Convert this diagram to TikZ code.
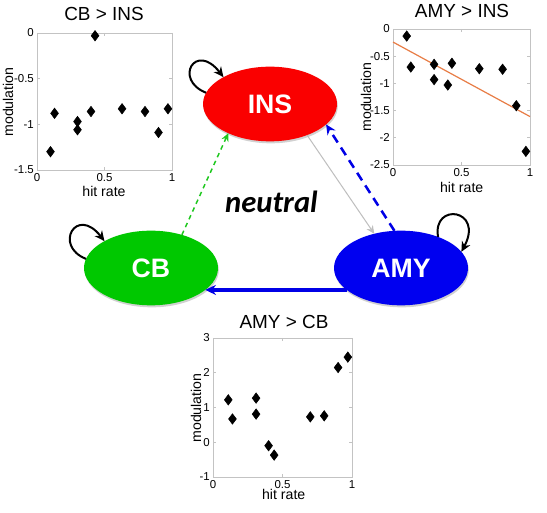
\documentclass[tikz,border=0pt]{standalone}
\usepackage{fontspec}
\setmainfont{Liberation Sans}
\newfontfamily\calibrifont{Carlito}
\usetikzlibrary{shapes.geometric,arrows.meta,shadows}

\definecolor{insred}{RGB}{250,0,0}
\definecolor{cbgreen}{RGB}{0,200,0}
\definecolor{amyblue}{RGB}{0,0,240}
\definecolor{linkblue}{RGB}{0,0,230}
\definecolor{linkgreen}{RGB}{30,200,30}
\definecolor{linkgray}{RGB}{190,190,190}
\definecolor{fitorange}{RGB}{232,125,70}
\definecolor{boxgray}{RGB}{195,195,195}

\tikzset{every picture/.style={line width=0.75pt}}
\tikzset{
	region/.style={ellipse, draw=none, minimum width=100.5pt, minimum height=56pt, inner sep=0pt, outer sep=0pt, text=white, font=\fontsize{20}{20}\selectfont\bfseries,
		drop shadow={shadow xshift=0.6pt, shadow yshift=-1.5pt, fill=black, opacity=0.18}},
	selfloop/.style={line width=1.5pt, -{Stealth[length=7.5pt,width=7pt]}},
	plotbox/.style={draw=boxgray, line width=0.6pt},
	ticklabel/.style={font=\fontsize{8.6}{8.6}\selectfont, inner sep=2pt},
	axislabel/.style={font=\fontsize{10.6}{10.6}\selectfont, inner sep=0pt},
	plottitle/.style={font=\fontsize{14.2}{14.2}\selectfont, inner sep=0pt, anchor=base},
	datapoint/.style={diamond, fill=black, draw=black, line width=0.4pt, inner sep=0pt, minimum width=6pt, minimum height=8pt},
}

\begin{document}
\begin{tikzpicture}[x=0.75pt,y=0.75pt,yscale=-1,xscale=1]
	\useasboundingbox (0,0) rectangle (547,513);
	\fill[white] (0,0) rectangle (547,513);

	%Shape: Ellipse
	\node[region, fill=insred] (INS) at (270,104) {INS};
	%Shape: Ellipse
	\node[region, fill=cbgreen] (CB) at (151,268) {CB};
	%Shape: Ellipse
	\node[region, fill=amyblue] (AMY) at (401,268) {AMY};

	% Text Node
	\node[anchor=base, inner sep=0pt, font=\calibrifont\fontsize{23}{23}\selectfont\bfseries\itshape] (neutral) at (271.5,213) {neutral};

	%Straight Lines
	\draw[linkgreen, line width=1.1pt, dash pattern=on 3.4pt off 3pt, -{Stealth[length=6pt,width=5.5pt]}] (CB.47) -- (INS.215);
	%Straight Lines
	\draw[linkblue, line width=1.9pt, dash pattern=on 6.75pt off 4.5pt, -{Stealth[length=7.5pt,width=7pt]}] (AMY.100) -- (INS.340);
	%Straight Lines
	\draw[linkgray, line width=0.75pt, -{Stealth[length=6pt,width=5.5pt]}] (INS.-40) -- (AMY.128);
	%Straight Lines
	\draw[linkblue, line width=2.5pt, -{Stealth[length=8pt,width=7.5pt]}] (AMY.202) -- (CB.338);

	%Curve Lines
	\draw[selfloop] (INS.170) .. controls +(-33,-13) and +(-28,-36) .. (INS.150);
	%Curve Lines
	\draw[selfloop] (CB.172) .. controls +(-33,-13) and +(-28,-36) .. (CB.150);
	%Curve Lines
	\draw[selfloop] (AMY.40) .. controls +(-6,-35) and +(23,-43) .. (AMY.15);

	% Plot CB > INS
	\node[plottitle] (cbinsTitle) at (104,20.7) {CB > INS};
	\node[axislabel, anchor=base] (cbinsX) at (104,197) {hit rate};
	\node[axislabel, rotate=90] (cbinsY) at (8,102) {modulation};
	\begin{scope}[shift={(37,33)}, xscale=135, yscale=-91.3]
		\draw[plotbox] (0,-1.5) rectangle (1,0);
		\foreach \tx [count=\i] in {0,0.5,1} {
			\draw[plotbox] (\tx,-1.5) -- (\tx,-1.47) (\tx,0) -- (\tx,-0.03);
			\node[ticklabel, anchor=north] (cbinsXt\i) at (\tx,-1.5) {\tx};
		}
		\foreach \ty/\tl [count=\i] in {-1.5/-1.5,-1/-1,-0.5/-0.5,0/0} {
			\draw[plotbox] (0,\ty) -- (0.02,\ty) (1,\ty) -- (0.98,\ty);
			\node[ticklabel, anchor=east] (cbinsYt\i) at (0,\ty) {\tl};
		}
		\foreach \px/\py [count=\i] in {0.10/-1.30, 0.13/-0.88, 0.30/-0.97, 0.30/-1.06, 0.40/-0.86, 0.43/-0.03, 0.63/-0.83, 0.80/-0.86, 0.90/-1.09, 0.97/-0.83}
			\node[datapoint] (cbinsP\i) at (\px,\py) {};
	\end{scope}

	% Plot AMY > INS
	\node[plottitle] (amyinsTitle) at (462,17.3) {AMY > INS};
	\node[axislabel, anchor=base] (amyinsX) at (461.7,193) {hit rate};
	\node[axislabel, rotate=90] (amyinsY) at (366,97) {modulation};
	\begin{scope}[shift={(393,29)}, xscale=137, yscale=-54.4]
		\draw[plotbox] (0,-2.5) rectangle (1,0);
		\foreach \tx [count=\i] in {0,0.5,1} {
			\draw[plotbox] (\tx,-2.5) -- (\tx,-2.45) (\tx,0) -- (\tx,-0.05);
			\node[ticklabel, anchor=north] (amyinsXt\i) at (\tx,-2.5) {\tx};
		}
		\foreach \ty/\tl [count=\i] in {-2.5/-2.5,-2/-2,-1.5/-1.5,-1/-1,-0.5/-0.5,0/0} {
			\draw[plotbox] (0,\ty) -- (0.02,\ty) (1,\ty) -- (0.98,\ty);
			\node[ticklabel, anchor=east] (amyinsYt\i) at (0,\ty) {\tl};
		}
		\draw[fitorange, line width=0.9pt] (0,-0.24) -- (1,-1.61);
		\foreach \px/\py [count=\i] in {0.10/-0.13, 0.13/-0.70, 0.30/-0.65, 0.30/-0.93, 0.40/-1.03, 0.43/-0.63, 0.63/-0.73, 0.80/-0.74, 0.90/-1.41, 0.97/-2.25}
			\node[datapoint] (amyinsP\i) at (\px,\py) {};
	\end{scope}

	% Plot AMY > CB
	\node[plottitle] (amycbTitle) at (284,328.3) {AMY > CB};
	\node[axislabel, anchor=base] (amycbX) at (283.7,500) {hit rate};
	\node[axislabel, rotate=90] (amycbY) at (196,408) {modulation};
	\begin{scope}[shift={(213,442.25)}, xscale=139, yscale=-34.75]
		\draw[plotbox] (0,-1) rectangle (1,3);
		\foreach \tx [count=\i] in {0,0.5,1} {
			\draw[plotbox] (\tx,-1) -- (\tx,-0.92) (\tx,3) -- (\tx,2.92);
			\node[ticklabel, anchor=north] (amycbXt\i) at (\tx,-1) {\tx};
		}
		\foreach \ty [count=\i] in {-1,0,1,2,3} {
			\draw[plotbox] (0,\ty) -- (0.02,\ty) (1,\ty) -- (0.98,\ty);
			\node[ticklabel, anchor=east] (amycbYt\i) at (0,\ty) {\ty};
		}
		\foreach \px/\py [count=\i] in {0.11/1.22, 0.14/0.67, 0.31/1.27, 0.31/0.81, 0.40/-0.10, 0.44/-0.37, 0.70/0.73, 0.80/0.76, 0.90/2.15, 0.97/2.45}
			\node[datapoint] (amycbP\i) at (\px,\py) {};
	\end{scope}
\end{tikzpicture}
\end{document}
